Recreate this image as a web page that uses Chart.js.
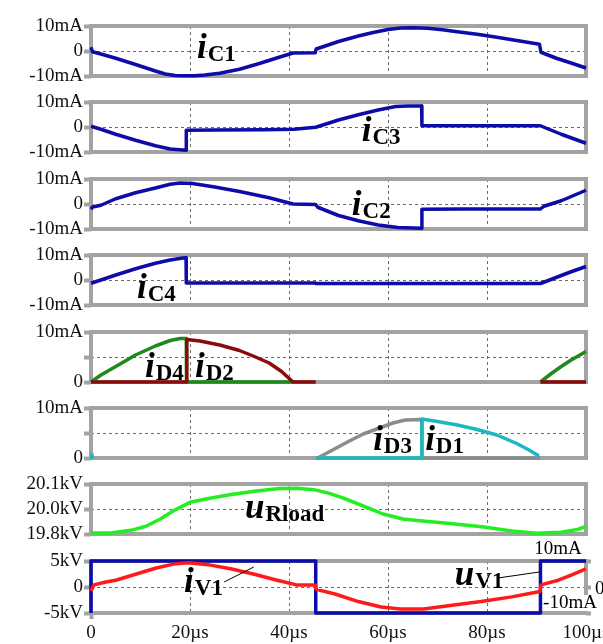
<!DOCTYPE html>
<html>
<head>
<meta charset="utf-8">
<script src="https://cdn.jsdelivr.net/npm/chart.js@4.4.1/dist/chart.umd.min.js"></script>
<style>
    html, body { margin: 0; padding: 0; background: #fff; overflow: hidden; }
    #scope { position: relative; width: 603px; height: 644px; overflow: hidden; }
    #scope canvas { position: absolute; left: 0; }
</style>
</head>
<body>
<div id="scope"></div>
<script>
// time axis (µs)
const timeTicks = [0, 20, 40, 60, 80, 100];
const timeTickLabels = ['0', '20µs', '40µs', '60µs', '80µs', '100µs'];

// value axes
const capTicks = [-10, 0, 10];
const capTickLabels = ['-10mA', '0', '10mA'];
const diodeTicks = [0, 5, 10];
const diodeTickLabels = ['0', '', '10mA'];
const loadTicks = [19.8, 19.95, 20.1];
const loadTickLabels = ['19.8kV', '20.0kV', '20.1kV'];
const srcTicks = [-5, 0, 5];
const srcTickLabels = ['-5kV', '0', '5kV'];
const srcCurTicks = [-10, 0, 10];
const srcCurTickLabels = ['-10mA', '0', '10mA'];

// capacitor currents (mA)
const tC1 = [0, 0.3, 2, 5, 9, 13, 15, 17, 19, 21, 23, 26, 30, 34, 38, 40.8, 45.3, 45.5, 47, 50, 54, 57, 60, 62.5, 65, 68, 71, 74, 78, 82, 86, 90.6, 90.9, 94, 97, 100];
const iC1 = [1.5, -0.3, -1.2, -2.9, -5.4, -8.0, -9.2, -9.8, -9.9, -9.9, -9.6, -8.9, -7.3, -5.0, -2.5, -0.8, -0.7, 0.8, 1.8, 3.8, 6.0, 7.4, 8.6, 9.2, 9.3, 9.1, 8.5, 7.7, 6.7, 5.5, 4.2, 2.7, -0.5, -2.9, -4.8, -6.8];

const tC3 = [0, 2, 5, 9, 13, 16, 19.2, 19.25, 25, 35, 41, 45.4, 47, 50, 54, 58, 61.5, 64, 66.8, 66.85, 75, 85, 90.8, 92, 95, 100];
const iC3 = [0.3, -0.9, -2.9, -5.3, -7.5, -8.8, -9.3, -1.3, -1.2, -1.1, -0.9, -0.1, 0.9, 2.8, 4.9, 6.8, 8.2, 8.4, 8.4, 0.5, 0.5, 0.5, 0.5, -0.5, -2.9, -6.5];

const tC2 = [0, 0.3, 2, 5, 9, 13, 16, 18, 20.5, 25, 30, 36, 40.8, 45.4, 45.8, 50, 54, 58, 62, 66.8, 66.85, 75, 85, 90.8, 91.5, 95, 100];
const iC2 = [-2.1, -1.2, -0.5, 2.1, 4.5, 6.4, 7.9, 8.4, 8.2, 6.8, 5.0, 2.5, 0, -0.2, -1.3, -4.6, -6.7, -8.4, -9.4, -9.7, -2.1, -2.0, -2.0, -2.0, -0.9, 1.3, 5.5];

const tC4 = [0, 2, 5, 9, 13, 16, 18.5, 19.2, 19.25, 45.4, 45.5, 90.8, 92, 95, 97, 100];
const iC4 = [-1.3, 0, 2.0, 4.5, 6.7, 8.0, 8.8, 8.9, -1.2, -1.2, -1.4, -1.4, -0.5, 1.8, 3.3, 5.4];

// diode currents (mA), null = not conducting / not plotted
const tD4 = [0, 2, 5, 9, 13, 16, 18, 19.25, 19.3, 40.8, 41, 90.8, 93, 95, 97, 100];
const iD4 = [0, 1.4, 3.1, 5.4, 7.2, 8.3, 8.7, 8.7, 0, 0, null, 0, 1.7, 3.1, 4.4, 6.1];

const tD2 = [0, 19.3, 19.35, 22, 26, 30, 33, 36, 38.5, 40.8, 45.4, 46, 90.8, 100];
const iD2 = [0, 0, 8.5, 8.2, 7.4, 6.3, 5.1, 3.8, 2.1, 0, 0, null, 0, 0];

const tD3 = [45.4, 45.8, 49, 52, 55, 58, 61, 63.5, 66.8, 66.85, 90.8];
const iD3 = [0, 0, 1.7, 3.3, 4.8, 5.9, 7.0, 7.6, 7.7, 0, 0];

const tD1 = [0, 0.2, 0.3, 45.6, 66.8, 66.85, 70, 74, 78, 82, 86, 88.5, 90.5];
const iD1 = [0.7, 0, null, 0, 0, 7.8, 7.3, 6.6, 5.7, 4.6, 2.9, 1.6, 0.4];

// load voltage (kV)
const tLoad = [0, 4, 8, 11, 14, 17, 20, 24, 28, 33, 38, 41.5, 45, 48, 51, 55, 59, 63, 67, 72, 79, 85, 90, 95, 98, 100];
const uLoad = [19.806, 19.806, 19.822, 19.845, 19.89, 19.945, 19.99, 20.015, 20.035, 20.057, 20.073, 20.075, 20.066, 20.045, 20.015, 19.968, 19.92, 19.89, 19.878, 19.864, 19.843, 19.818, 19.805, 19.81, 19.825, 19.845];

// source voltage (kV) and source current (mA)
const tUV1 = [0, 0, 45.4, 45.4, 90.8, 90.8, 100];
const uV1 = [-5, 5, 5, -5, -5, 5, 5];

const tIV1 = [0, 0.6, 3, 5, 9, 13, 16.6, 19.7, 23.6, 28.2, 33, 37.6, 41.5, 45.3, 45.5, 49.3, 54, 58.6, 62.5, 67.2, 71.8, 78.8, 85, 90.7, 90.9, 94.4, 97, 100];
const iV1 = [-1.5, 0.8, 1.9, 2.6, 4.9, 7.2, 8.8, 9.3, 8.6, 7.0, 4.9, 2.6, 0.8, 0.8, -0.9, -2.7, -5.6, -7.7, -8.5, -8.5, -7.3, -5.6, -3.8, -1.7, 0.8, 2.6, 4.6, 7.0];

const BLUE = '#0c0ca8';
const FRAME = '#a3a3a3';
const GRID = '#6a6a6a';
const FONT = '"Liberation Serif", "Times New Roman", serif';
const PAD = 14;
const PAD_LAST = 26;

Chart.defaults.font.family = FONT;
Chart.defaults.color = '#111';

function zip(t, v) {
    return t.map(function(x, i) { return { x: x, y: v[i] }; });
}

function fixedTicks(values) {
    return function(scale) {
        scale.ticks = values.map(function(v) { return { value: v }; });
    };
}

const panels = [
    { top: 26, h: 50, min: -10, max: 10, ticks: capTicks, labels: capTickLabels,
      series: [{ t: tC1, v: iC1, color: BLUE }],
      tags: [{ main: 'i', sub: 'C1', x: 21.4, y: -2.8 }] },
    { top: 102, h: 50, min: -10, max: 10, ticks: capTicks, labels: capTickLabels,
      series: [{ t: tC3, v: iC3, color: BLUE }],
      tags: [{ main: 'i', sub: 'C3', x: 54.7, y: -5.4 }] },
    { top: 179, h: 50, min: -10, max: 10, ticks: capTicks, labels: capTickLabels,
      series: [{ t: tC2, v: iC2, color: BLUE }],
      tags: [{ main: 'i', sub: 'C2', x: 52.7, y: -4.5 }] },
    { top: 255, h: 50, min: -10, max: 10, ticks: capTicks, labels: capTickLabels,
      series: [{ t: tC4, v: iC4, color: BLUE }],
      tags: [{ main: 'i', sub: 'C4', x: 9.3, y: -7.1 }] },
    { top: 332, h: 50, min: 0, max: 10, ticks: diodeTicks, labels: diodeTickLabels,
      series: [{ t: tD2, v: iD2, color: '#8b0a0a' }, { t: tD4, v: iD4, color: '#1e8a1e' }],
      tags: [{ main: 'i', sub: 'D4', x: 10.9, y: 1.0 }, { main: 'i', sub: 'D2', x: 21.0, y: 1.0 }] },
    { top: 408, h: 50, min: 0, max: 10, ticks: diodeTicks, labels: diodeTickLabels,
      series: [{ t: tD1, v: iD1, color: '#1cb8c0' }, { t: tD3, v: iD3, color: '#8c8c8c' }],
      tags: [{ main: 'i', sub: 'D3', x: 57.0, y: 1.6 }, { main: 'i', sub: 'D1', x: 67.5, y: 1.6 }] },
    { top: 484, h: 50, min: 19.8, max: 20.1, ticks: loadTicks, labels: loadTickLabels,
      series: [{ t: tLoad, v: uLoad, color: '#22ee22' }],
      tags: [{ main: 'u', sub: 'Rload', x: 31.1, y: 19.898 }] },
    { top: 561, h: 52, min: -5, max: 5, ticks: srcTicks, labels: srcTickLabels,
      series: [{ t: tIV1, v: iV1, color: '#ff1a1a', axis: 'y2' }, { t: tUV1, v: uV1, color: BLUE }],
      tags: [{ main: 'i', sub: 'V1', x: 18.8, y: -0.96, lead: [26.9, 0.96, 32.9, 3.85] },
             { main: 'u', sub: 'V1', x: 73.5, y: 0.38, lead: [82.2, 1.73, 90.7, 2.9] }],
      right: { min: -10, max: 10, ticks: srcCurTicks, labels: srcCurTickLabels } }
];

// gray plot frame under the traces
const framePlugin = {
    id: 'frame',
    beforeDatasetsDraw: function(chart) {
        const a = chart.chartArea, ctx = chart.ctx;
        ctx.save();
        ctx.strokeStyle = FRAME;
        ctx.lineWidth = 4;
        ctx.strokeRect(a.left, a.top, a.right - a.left, a.bottom - a.top);
        ctx.restore();
    }
};

// trace names (italic symbol + bold subscript) and right axis labels
const tagPlugin = {
    id: 'tags',
    afterDatasetsDraw: function(chart, args, opts) {
        const ctx = chart.ctx, xs = chart.scales.x, ys = chart.scales.y;
        const items = opts.items || [];
        ctx.save();
        ctx.fillStyle = '#000';
        ctx.strokeStyle = '#000';
        ctx.textBaseline = 'alphabetic';
        for (let i = 0; i < items.length; i++) {
            const it = items[i];
            const px = xs.getPixelForValue(it.x), py = ys.getPixelForValue(it.y);
            ctx.textAlign = 'left';
            ctx.font = 'italic bold 35px ' + FONT;
            ctx.fillText(it.main, px, py);
            const w = ctx.measureText(it.main).width;
            ctx.font = 'bold 23px ' + FONT;
            ctx.fillText(it.sub, px + w + 1, py + 3);
            if (it.lead) {
                ctx.lineWidth = 1;
                ctx.beginPath();
                ctx.moveTo(xs.getPixelForValue(it.lead[0]), ys.getPixelForValue(it.lead[1]));
                ctx.lineTo(xs.getPixelForValue(it.lead[2]), ys.getPixelForValue(it.lead[3]));
                ctx.stroke();
            }
        }
        const y2 = chart.scales.y2;
        if (y2) {
            const r = chart.chartArea.right;
            const lbl = opts.rightLabels;
            ctx.font = '19px ' + FONT;
            ctx.textBaseline = 'middle';
            // -10mA sits on a white patch over the frame
            ctx.textAlign = 'center';
            const wNeg = ctx.measureText(lbl[0]).width;
            const yNeg = y2.getPixelForValue(y2.min) - 10;
            ctx.fillStyle = '#fff';
            ctx.fillRect(r - 16 - wNeg / 2 + 4, yNeg - 8, wNeg, 16);
            ctx.fillStyle = '#000';
            ctx.fillText(lbl[0], r - 16, yNeg);
            ctx.textAlign = 'left';
            ctx.fillText(lbl[1], r + 9, y2.getPixelForValue(0) + 2);
            ctx.textAlign = 'center';
            ctx.fillText(lbl[2], r - 28, y2.getPixelForValue(y2.max) - 12);
        }
        ctx.restore();
    }
};

const scope = document.getElementById('scope');

panels.forEach(function(p, idx) {
    const last = idx === panels.length - 1;
    const pad = last ? PAD_LAST : PAD;
    const canvas = document.createElement('canvas');
    const top = p.top - pad;
    const w = last ? 640 : 603;
    const h = last ? 644 - top : p.h + 2 * pad;
    canvas.width = w;
    canvas.height = h;
    canvas.style.top = top + 'px';
    scope.appendChild(canvas);

    const datasets = p.series.map(function(s) {
        return {
            data: zip(s.t, s.v),
            borderColor: s.color,
            borderWidth: 3.5,
            pointRadius: 0,
            tension: 0,
            borderJoinStyle: 'round',
            clip: 6,
            yAxisID: s.axis || 'y'
        };
    });

    const scales = {
        x: {
            type: 'linear',
            min: 0,
            max: 100,
            afterBuildTicks: fixedTicks(timeTicks),
            afterFit: function(scale) { scale.height = last ? 644 - (p.top + p.h) : 0; },
            border: { display: false, dash: [3, 3] },
            grid: {
                color: function(c) { return c.index > 0 && c.index < timeTicks.length - 1 ? GRID : 'rgba(0,0,0,0)'; },
                lineWidth: 1,
                drawTicks: last,
                tickLength: 6,
                tickWidth: 4,
                tickColor: function(c) { return c.index === 0 ? FRAME : 'rgba(0,0,0,0)'; }
            },
            ticks: {
                display: last,
                padding: 3,
                maxRotation: 0,
                autoSkip: false,
                font: { size: 19 },
                callback: function(v, i) { return timeTickLabels[i]; }
            }
        },
        y: {
            type: 'linear',
            min: p.min,
            max: p.max,
            afterBuildTicks: fixedTicks(p.ticks),
            afterFit: function(scale) { scale.width = 91; },
            border: { display: false, dash: [3, 3] },
            grid: {
                color: function(c) { return c.index === 1 ? GRID : 'rgba(0,0,0,0)'; },
                lineWidth: 1,
                tickLength: 7,
                tickWidth: 4,
                tickColor: FRAME
            },
            ticks: {
                padding: 1,
                autoSkip: false,
                font: { size: 19 },
                callback: function(v, i) { return p.labels[i]; }
            }
        }
    };

    if (p.right) {
        scales.y2 = {
            type: 'linear',
            position: 'right',
            min: p.right.min,
            max: p.right.max,
            afterBuildTicks: fixedTicks(p.right.ticks),
            afterFit: function(scale) { scale.width = w - 586; },
            border: { display: false },
            grid: { drawOnChartArea: false, tickLength: 5, tickWidth: 4, tickColor: FRAME },
            ticks: { display: false }
        };
    }

    new Chart(canvas, {
        type: 'line',
        data: { datasets: datasets },
        options: {
            responsive: false,
            animation: false,
            events: [],
            layout: { padding: { top: pad, bottom: last ? 0 : pad, left: 0, right: last ? 0 : 17 } },
            plugins: {
                legend: { display: false },
                tooltip: { enabled: false },
                tags: { items: p.tags, rightLabels: p.right ? p.right.labels : null }
            },
            scales: scales
        },
        plugins: [framePlugin, tagPlugin]
    });
});
</script>
</body>
</html>
